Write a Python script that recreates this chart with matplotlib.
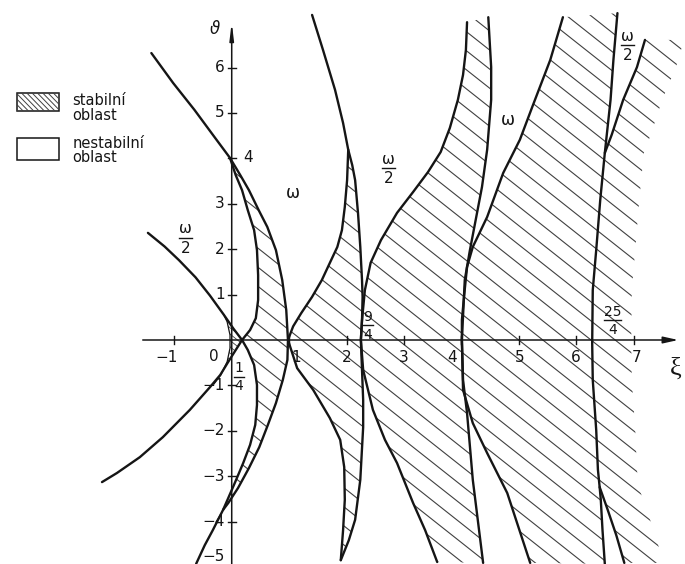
import numpy as np
import matplotlib
matplotlib.use("Agg")
import matplotlib.pyplot as plt
from matplotlib.patches import Polygon, Rectangle

plt.rcParams['font.family'] = ['DejaVu Sans']

# boundary curves of the stability chart, (xi, theta) pairs from top to bottom
a0 = np.array([(-0.14, 0.56), (-0.08, 0.40), (-0.03, 0.11), (-0.03, -0.18),
               (-0.08, -0.48), (-0.19, -0.77), (-0.31, -0.97)])
b1 = np.array([(-1.46, 2.36), (-1.17, 2.06), (-0.92, 1.76), (-0.63, 1.38),
               (-0.38, 0.98), (-0.14, 0.56), (0.03, 0.25), (0.18, 0.0),
               (0.07, -0.22), (-0.06, -0.48), (-0.20, -0.77), (-0.38, -1.04),
               (-0.73, -1.54), (-1.20, -2.14), (-1.60, -2.58), (-2.00, -2.93),
               (-2.26, -3.13)])
a1 = np.array([(-0.03, 4.01), (0.07, 3.63), (0.18, 3.30), (0.28, 2.86),
               (0.39, 2.42), (0.44, 1.98), (0.46, 1.43), (0.46, 0.88),
               (0.42, 0.48), (0.32, 0.22), (0.18, 0.0), (0.28, -0.22),
               (0.39, -0.55), (0.44, -0.99), (0.44, -1.43), (0.41, -1.87),
               (0.32, -2.31), (0.20, -2.71), (0.06, -3.13), (-0.06, -3.48),
               (-0.15, -3.74)])
b2 = np.array([(-1.40, 6.32), (-1.02, 5.66), (-0.65, 5.07), (-0.30, 4.47),
               (-0.03, 4.01), (0.15, 3.63), (0.30, 3.30), (0.47, 2.86),
               (0.62, 2.49), (0.77, 1.98), (0.88, 1.32), (0.95, 0.66),
               (0.98, 0.0), (0.97, -0.44), (0.89, -0.88), (0.77, -1.39),
               (0.63, -1.87), (0.48, -2.36), (0.30, -2.82), (0.11, -3.26),
               (-0.06, -3.59), (-0.15, -3.74), (-0.33, -4.19), (-0.47, -4.52),
               (-0.62, -4.93)])
a2 = np.array([(2.03, 4.19), (2.01, 3.52), (1.97, 2.93), (1.92, 2.42),
               (1.84, 2.05), (1.71, 1.70), (1.57, 1.32), (1.40, 0.95),
               (1.21, 0.59), (1.07, 0.30), (0.98, 0.0), (1.14, -0.62),
               (1.42, -1.10), (1.71, -1.72), (1.89, -2.20), (1.96, -2.80),
               (1.97, -3.52), (1.94, -4.19), (1.90, -4.85)])
b3 = np.array([(1.40, 7.16), (1.59, 6.39), (1.80, 5.51), (1.94, 4.78),
               (2.03, 4.19), (2.10, 3.85), (2.15, 3.52), (2.20, 2.80),
               (2.24, 2.05), (2.27, 1.32), (2.28, 0.95), (2.27, 0.44),
               (2.25, 0.0), (2.27, -0.66), (2.29, -1.32), (2.29, -1.92),
               (2.24, -3.08), (2.15, -3.96), (2.04, -4.41), (1.90, -4.85)])
a3 = np.array([(4.10, 7.00), (4.08, 6.39), (4.03, 5.84), (3.94, 5.29),
               (3.80, 4.67), (3.64, 4.14), (3.42, 3.70), (3.16, 3.26),
               (2.88, 2.80), (2.60, 2.20), (2.42, 1.70), (2.32, 1.10),
               (2.27, 0.44), (2.25, 0.0), (2.29, -0.66), (2.46, -1.54),
               (2.67, -2.20), (2.88, -2.71), (3.16, -3.59), (3.37, -4.19),
               (3.58, -4.89)])
b4 = np.array([(4.47, 7.11), (4.52, 6.01), (4.52, 5.29), (4.45, 4.19),
               (4.36, 3.37), (4.15, 1.98), (4.06, 1.32), (4.01, 0.0),
               (4.03, -0.88), (4.10, -1.61), (4.20, -3.08), (4.38, -4.91)])
a4 = np.array([(5.77, 7.11), (5.55, 6.17), (5.25, 5.18), (5.02, 4.41),
               (4.73, 3.68), (4.45, 2.71), (4.20, 2.05), (4.10, 1.61),
               (4.05, 0.99), (4.01, 0.44), (4.01, 0.0), (4.03, -1.10),
               (4.20, -1.83), (4.45, -2.49), (4.80, -3.37), (5.20, -4.91)])
b5 = np.array([(6.72, 7.20), (6.65, 6.17), (6.60, 5.29), (6.50, 4.12),
               (6.42, 3.08), (6.35, 1.98), (6.29, 1.10), (6.28, -0.07),
               (6.29, -0.88), (6.35, -1.98), (6.38, -2.86), (6.41, -3.24),
               (6.43, -3.52), (6.46, -4.19), (6.50, -4.93)])
a5_top = np.array([(7.20, 6.61), (7.06, 6.01), (6.82, 5.29), (6.62, 4.52),
                   (6.50, 4.12)])
a5_bot = np.array([(6.41, -3.24), (6.55, -3.74), (6.70, -4.30), (6.84, -4.91)])

x_ticks = [-1, 1, 2, 3, 4, 5, 6, 7]
y_ticks = [-5, -4, -3, -2, -1, 1, 2, 3, 4, 5, 6]

fig = plt.figure(figsize=(6.85, 5.64), dpi=100)
ax = fig.add_axes([0, 0, 1, 1])
ax.set_xlim(-4.037, 7.897)
ax.set_ylim(-4.934, 7.489)
ax.axis('off')

INK = '#151515'


def hatch(pts, step=0.42, slope=-1.0, color='#404040', lw=0.8):
    patch = Polygon(pts, closed=True, fill=False, edgecolor='none')
    ax.add_patch(patch)
    xs = np.array([-5.0, 9.0])
    for c in np.arange(-16, 20, step):
        ln, = ax.plot(xs, c + slope * xs, color=color, lw=lw, zorder=1)
        ln.set_clip_path(patch)


# stable regions
hatch(np.vstack([a0, b1[5:11][::-1]]), step=0.14, lw=0.6)
hatch(np.vstack([a1, b2[4:22][::-1]]))
hatch(np.vstack([a2, b3[4:][::-1]]))
hatch(np.vstack([a3, b4[::-1]]))
hatch(np.vstack([a4, b5[::-1]]))
edge = np.vstack([a5_top[:-1], b5[3:12], a5_bot[1:]])
hatch(np.vstack([edge, (edge + [0.68, 0.0])[::-1]]))

# boundary curves
for c in [b1, a1, b2, a2, b3, a3, b4, a4, b5, a5_top, a5_bot]:
    ax.plot(c[:, 0], c[:, 1], color=INK, lw=1.7, solid_joinstyle='round',
            solid_capstyle='round', zorder=3)
ax.plot(a0[:, 0], a0[:, 1], color=INK, lw=0.9, zorder=3)

# axes with arrows
ax.annotate('', xy=(7.78, 0), xytext=(-1.55, 0),
            arrowprops=dict(arrowstyle='-|>,head_length=0.9,head_width=0.2',
                            lw=1.1, color=INK, shrinkA=0, shrinkB=0), zorder=4)
ax.annotate('', xy=(0, 7.0), xytext=(0, -5.2),
            arrowprops=dict(arrowstyle='-|>,head_length=1.0,head_width=0.12',
                            lw=1.1, color=INK, shrinkA=0, shrinkB=0), zorder=4)
for t in x_ticks:
    ax.plot([t, t], [-0.09, 0.09], color=INK, lw=1.0, zorder=4)
for t in y_ticks:
    ax.plot([-0.07, 0.07], [t, t], color=INK, lw=1.0, zorder=4)

tick_kw = dict(fontsize=11, color=INK, va='center', ha='center', zorder=5)
x_shift = {-1: -0.14, 1: 0.12, 4: -0.16, 5: 0.02, 7: 0.05}
for t in x_ticks:
    ax.text(t + x_shift.get(t, 0.0), -0.38, str(t).replace('-', '\u2212'),
            **tick_kw)
ax.text(-0.32, -0.36, '0', **tick_kw)
for t in y_ticks:
    if t == 4:
        ax.text(0.28, 4.03, '4', fontsize=11, color=INK, va='center',
                ha='center', zorder=5)
        continue
    ty = -4.76 if t == -5 else t
    ax.text(-0.12, ty, str(t).replace('-', '\u2212'), fontsize=11, color=INK,
            va='center', ha='right', zorder=5)

ax.text(7.73, -0.62, '\u03be', fontsize=19, family='Liberation Serif',
        color=INK, ha='center', va='center')
ax.text(-0.30, 6.84, '\u03d1', fontsize=12, color=INK, ha='center',
        va='center', style='italic')


def frac(x, y, top, bot, size=11, half=0.11):
    ax.text(x, y + 0.03, top, ha='center', va='bottom', fontsize=size,
            color=INK, zorder=5)
    ax.text(x, y - 0.06, bot, ha='center', va='top', fontsize=size,
            color=INK, zorder=5)
    ax.plot([x - half, x + half], [y, y], color=INK, lw=1.0, zorder=5)


frac(-0.81, 2.25, '\u03c9', '2')
frac(2.73, 3.79, '\u03c9', '2')
frac(6.90, 6.50, '\u03c9', '2')
frac(2.37, 0.33, '9', '4', size=10, half=0.09)
frac(6.63, 0.44, '25', '4', size=10, half=0.15)
frac(0.13, -0.81, '1', '4', size=10, half=0.09)
ax.text(1.07, 3.24, '\u03c9', fontsize=12, color=INK, ha='center', va='center')
ax.text(4.81, 4.85, '\u03c9', fontsize=12, color=INK, ha='center', va='center')

# legend
box1 = Rectangle((-3.74, 5.04), 0.73, 0.40, fill=False, edgecolor=INK, lw=1.1)
box2 = Rectangle((-3.74, 3.96), 0.73, 0.49, fill=False, edgecolor=INK, lw=1.1)
ax.add_patch(box1)
ax.add_patch(box2)
clip = Rectangle((-3.74, 5.04), 0.73, 0.40, fill=False, edgecolor='none')
ax.add_patch(clip)
for c in np.arange(-10, 10, 0.12):
    xs = np.array([-4.0, -2.8])
    ln, = ax.plot(xs, c - 1.3 * xs, color='#404040', lw=0.7)
    ln.set_clip_path(clip)
leg_kw = dict(fontsize=10.5, color=INK, ha='left', va='center')
ax.text(-2.78, 5.27, 'stabilní', **leg_kw)
ax.text(-2.78, 4.94, 'oblast', **leg_kw)
ax.text(-2.78, 4.33, 'nestabilní', **leg_kw)
ax.text(-2.78, 4.01, 'oblast', **leg_kw)

fig.savefig('out.png', dpi=100, facecolor='white')
